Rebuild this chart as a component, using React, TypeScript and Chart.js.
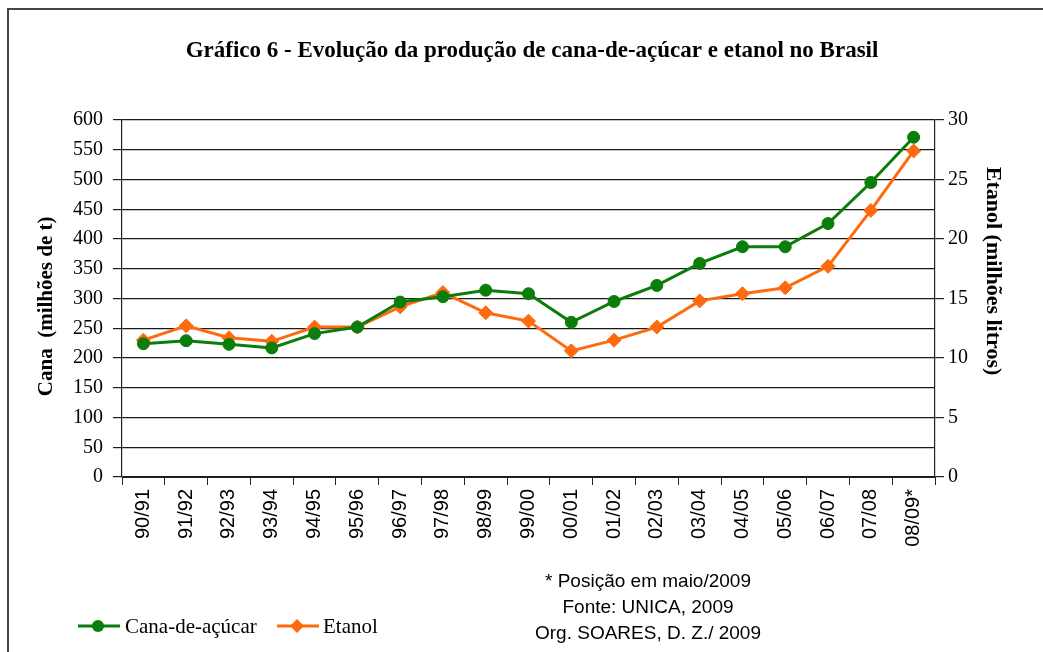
import React, { useEffect, useRef } from "react";
import { Chart, registerables } from "chart.js";

Chart.register(...registerables);

const categories = [
  "90/91", "91/92", "92/93", "93/94", "94/95", "95/96", "96/97", "97/98", "98/99", "99/00",
  "00/01", "01/02", "02/03", "03/04", "04/05", "05/06", "06/07", "07/08", "08/09*",
];
const canaValues = [224, 229, 223, 217, 241, 252, 294, 303, 314, 308, 260, 295, 322, 359, 387, 387, 426, 495, 571];
const etanolValues = [11.5, 12.7, 11.7, 11.4, 12.6, 12.6, 14.3, 15.5, 13.8, 13.1, 10.6, 11.5, 12.6, 14.8, 15.4, 15.9, 17.7, 22.4, 27.4];

const canaAxisMax = 600;
const canaAxisStep = 50;
const etanolAxisMax = 30;
const etanolAxisStep = 5;

const titleText = "Gráfico 6 - Evolução da produção de cana-de-açúcar e etanol no Brasil";
const leftTitle = "Cana  (milhões de t)   ";
const rightTitle = "Etanol (milhões litros)          ";
const canaLabel = "Cana-de-açúcar";
const etanolLabel = "Etanol";
const notes = ["* Posição em maio/2009", "Fonte: UNICA, 2009", "Org. SOARES, D. Z./ 2009"];

const GREEN = "#0a7d0a";
const ORANGE = "#ff6a0f";
const SERIF = '"Liberation Serif", "Times New Roman", serif';
const SANS = '"Liberation Sans", Arial, sans-serif';

export default function App() {
  const canvasRef = useRef<HTMLCanvasElement | null>(null);

  useEffect(() => {
    if (!canvasRef.current) return;
    const chart = new Chart(canvasRef.current, {
      type: "line",
      data: {
        labels: categories,
        datasets: [
          {
            label: canaLabel,
            data: canaValues,
            yAxisID: "y",
            borderColor: GREEN,
            backgroundColor: GREEN,
            borderWidth: 3,
            pointStyle: "circle",
            pointRadius: 6,
            pointBorderWidth: 1,
            tension: 0,
          },
          {
            label: etanolLabel,
            data: etanolValues,
            yAxisID: "y1",
            borderColor: ORANGE,
            backgroundColor: ORANGE,
            borderWidth: 3,
            pointStyle: "rectRot",
            pointRadius: 7,
            pointBorderWidth: 1,
            tension: 0,
          },
        ],
      },
      options: {
        responsive: false,
        animation: false,
        layout: { padding: { left: 21, right: 0, top: 0, bottom: 0 } },
        plugins: {
          legend: { display: false },
          tooltip: { enabled: false },
          title: {
            display: true,
            text: titleText,
            color: "#000",
            font: { family: SERIF, size: 23, weight: "bold", lineHeight: 1.2 },
            padding: { top: 37, bottom: 55.4 },
          },
        },
        scales: {
          x: {
            type: "category",
            offset: true,
            grid: {
              offset: true,
              drawOnChartArea: false,
              drawTicks: true,
              tickLength: 8,
              color: "#222",
              lineWidth: 1,
            },
            border: { display: true, color: "#222", width: 1 },
            ticks: {
              autoSkip: false,
              maxRotation: 90,
              minRotation: 90,
              padding: 4,
              color: "#000",
              font: { family: SANS, size: 20 },
            },
            afterFit: (s: any) => {
              s.height = 175;
            },
          },
          y: {
            position: "left",
            min: 0,
            max: canaAxisMax,
            ticks: {
              stepSize: canaAxisStep,
              padding: 10,
              color: "#000",
              font: { family: SERIF, size: 20 },
            },
            grid: { color: "#1a1a1a", lineWidth: 1.2, tickLength: 9, drawTicks: true },
            border: { display: true, color: "#222", width: 1.2 },
            title: {
              display: true,
              text: leftTitle,
              color: "#000",
              font: { family: SERIF, size: 21, weight: "bold", lineHeight: 1.2 },
              padding: { top: 13.4, bottom: 0 },
            },
            afterFit: (s: any) => {
              s.width = 101;
            },
          },
          y1: {
            position: "right",
            min: 0,
            max: etanolAxisMax,
            ticks: {
              stepSize: etanolAxisStep,
              padding: 4,
              color: "#000",
              font: { family: SERIF, size: 20 },
            },
            grid: { drawOnChartArea: false, color: "#222", lineWidth: 1.2, tickLength: 9, drawTicks: true },
            border: { display: true, color: "#222", width: 1.2 },
            title: {
              display: true,
              text: rightTitle,
              color: "#000",
              font: { family: SERIF, size: 22, weight: "bold", lineHeight: 1.2 },
              padding: { top: 36.8, bottom: 0 },
            },
            afterFit: (s: any) => {
              s.width = 108;
            },
          },
        },
      },
    });
    return () => chart.destroy();
  }, []);

  const legendText: React.CSSProperties = {
    position: "absolute",
    fontFamily: SERIF,
    fontSize: 21,
    lineHeight: "26px",
    top: 613,
    color: "#000",
    whiteSpace: "nowrap",
  };

  return (
    <div style={{ position: "absolute", left: 0, top: 0, width: 1043, height: 652, background: "#fff", overflow: "hidden" }}>
      <div
        style={{
          position: "absolute",
          left: 7,
          top: 8,
          width: 1100,
          height: 700,
          borderTop: "2px solid #444",
          borderLeft: "2px solid #444",
        }}
      />
      <canvas ref={canvasRef} width={1043} height={652} style={{ position: "absolute", left: 0, top: 0 }} />
      <svg style={{ position: "absolute", left: 76, top: 616 }} width={46} height={20}>
        <line x1={2} y1={10} x2={44} y2={10} stroke={GREEN} strokeWidth={3} />
        <circle cx={22} cy={10} r={6} fill={GREEN} />
      </svg>
      <div style={{ ...legendText, left: 125 }}>{canaLabel}</div>
      <svg style={{ position: "absolute", left: 275, top: 616 }} width={46} height={20}>
        <line x1={2} y1={10} x2={44} y2={10} stroke={ORANGE} strokeWidth={3} />
        <polygon points="22,3 29,10 22,17 15,10" fill={ORANGE} />
      </svg>
      <div style={{ ...legendText, left: 323 }}>{etanolLabel}</div>
      <div
        style={{
          position: "absolute",
          left: 498,
          width: 300,
          top: 568,
          textAlign: "center",
          fontFamily: SANS,
          fontSize: 19,
          lineHeight: "26px",
          color: "#000",
          whiteSpace: "nowrap",
        }}
      >
        {notes.map((n) => (
          <div key={n}>{n}</div>
        ))}
      </div>
    </div>
  );
}
